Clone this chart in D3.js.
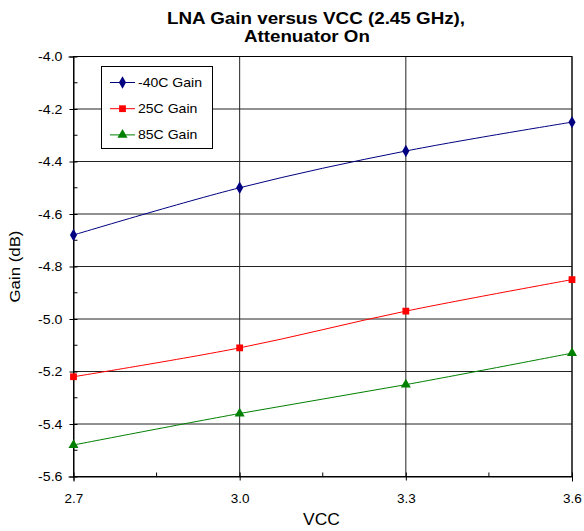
<!DOCTYPE html>
<html><head><meta charset="utf-8">
<script src="https://cdn.jsdelivr.net/npm/d3@7"></script>
<style>body{margin:0;background:#fff}</style>
</head><body>
<svg id="c" width="584" height="531"></svg>
<script>
const vcc = [2.7, 3.0, 3.3, 3.6];
const gainM40 = [-4.68, -4.50, -4.36, -4.25];
const gain25 = [-5.22, -5.11, -4.97, -4.85];
const gain85 = [-5.48, -5.36, -5.25, -5.13];
const seriesNames = ["-40C Gain", "25C Gain", "85C Gain"];
const yTicks = [-5.6, -5.4, -5.2, -5.0, -4.8, -4.6, -4.4, -4.2, -4.0];
const xTicks = [2.7, 3.0, 3.3, 3.6];

const series = [
  {name: seriesNames[0], vals: gainM40, color: "#000080", sym: d3.symbolDiamond, size: 44},
  {name: seriesNames[1], vals: gain25, color: "#ff0000", sym: d3.symbolSquare, size: 46},
  {name: seriesNames[2], vals: gain85, color: "#008000", sym: d3.symbolTriangle, size: 44}
];

const svg = d3.select("#c");
const L = 73.5, R = 572, T = 56.5, B = 476.5;
const x = d3.scaleLinear().domain([2.7, 3.6]).range([L, R]);
const y = d3.scaleLinear().domain([-5.6, -4.0]).range([B, T]);
const font = "Liberation Sans, Arial, sans-serif";
const fmt = d => d.toFixed(1);
function stretch(sel, f) { sel.each(function () { this.setAttribute("textLength", this.getComputedTextLength() * f); this.setAttribute("lengthAdjust", "spacingAndGlyphs"); }); }

// gridlines
svg.append("g").selectAll("line").data(yTicks).join("line")
  .attr("x1", L).attr("x2", R).attr("y1", d => y(d)).attr("y2", d => y(d))
  .attr("stroke", "#222").attr("stroke-width", 1);
svg.append("g").selectAll("line").data(xTicks).join("line")
  .attr("y1", T).attr("y2", B).attr("x1", d => x(d)).attr("x2", d => x(d))
  .attr("stroke", "#222").attr("stroke-width", 1);

// axes
const yAxis = d3.axisLeft(y).tickValues(yTicks).tickFormat(fmt).tickSize(5).tickPadding(6);
const gy = svg.append("g").attr("transform", `translate(${L},0)`).call(yAxis);
const xAxis = d3.axisBottom(x).tickValues(xTicks).tickFormat(fmt).tickSize(5).tickPadding(12);
const gx = svg.append("g").attr("transform", `translate(0,${B})`).call(xAxis);
[gy, gx].forEach(g => {
  g.select(".domain").attr("stroke", "#000");
  g.selectAll(".tick line").attr("stroke", "#000");
  g.selectAll("text").attr("font-family", font).attr("font-size", 13.5).attr("fill", "#000");
});
gx.selectAll(".tick line").attr("y1", -4).attr("y2", 4);
gy.selectAll(".tick line").attr("x1", 4).attr("x2", -4);
stretch(gy.selectAll("text"), 1.05);
stretch(gx.selectAll("text"), 1.0);
// minor ticks
const yMinor = d3.range(-5.5, -4.0, 0.2);
svg.append("g").selectAll("line").data(yMinor).join("line")
  .attr("x1", L).attr("x2", L + 4).attr("y1", d => y(d)).attr("y2", d => y(d)).attr("stroke", "#000");
const xMinor = [2.85, 3.15, 3.45];
svg.append("g").selectAll("line").data(xMinor).join("line")
  .attr("y1", B).attr("y2", B - 4).attr("x1", d => x(d)).attr("x2", d => x(d)).attr("stroke", "#000");
// frame
svg.append("rect").attr("x", L).attr("y", T).attr("width", R - L).attr("height", B - T)
  .attr("fill", "none").attr("stroke", "#000");

// lines
const line = d3.line().x((d, i) => x(vcc[i])).y(d => y(d)).curve(d3.curveCatmullRom.alpha(0.5));
series.forEach(s => {
  svg.append("path").datum(s.vals).attr("d", line).attr("fill", "none")
    .attr("stroke", s.color).attr("stroke-width", 1);
  svg.append("g").selectAll("path").data(s.vals).join("path")
    .attr("transform", (d, i) => `translate(${x(vcc[i])},${y(d)})`)
    .attr("d", d3.symbol().type(s.sym).size(s.size)).attr("fill", s.color);
});

// legend
const lg = svg.append("g");
lg.append("rect").attr("x", 101.5).attr("y", 66.5).attr("width", 111).attr("height", 82)
  .attr("fill", "#fff").attr("stroke", "#000");
series.forEach((s, i) => {
  const yy = 82.5 + i * 26.2;
  lg.append("line").attr("x1", 110).attr("x2", 135).attr("y1", yy).attr("y2", yy)
    .attr("stroke", s.color).attr("stroke-width", 1);
  lg.append("path").attr("transform", `translate(122.5,${yy})`)
    .attr("d", d3.symbol().type(s.sym).size(s.size)).attr("fill", s.color);
  const t = lg.append("text").attr("x", 138).attr("y", yy + 4.5).text(s.name)
    .attr("font-family", font).attr("font-size", 13).attr("fill", "#000");
  stretch(t, 1.08);
});

// title & labels
const t1 = svg.append("text").attr("x", 167).attr("y", 23.5).attr("font-family", font)
  .attr("font-size", 16).attr("font-weight", "bold").attr("fill", "#000").text("LNA Gain versus VCC (2.45 GHz),");
const t2 = svg.append("text").attr("x", 244).attr("y", 42).attr("font-family", font)
  .attr("font-size", 16).attr("font-weight", "bold").attr("fill", "#000").text("Attenuator On");
stretch(t1, 1.175); stretch(t2, 1.17);
const xl = svg.append("text").attr("x", 321.5).attr("y", 525).attr("text-anchor", "middle")
  .attr("font-family", font).attr("font-size", 16).text("VCC");
stretch(xl, 1.09);
const yl = svg.append("text").attr("transform", `translate(20,${(T + B) / 2}) rotate(-90)`)
  .attr("text-anchor", "middle").attr("font-family", font).attr("font-size", 15).text("Gain (dB)");
stretch(yl, 1.12);
</script>
</body></html>
